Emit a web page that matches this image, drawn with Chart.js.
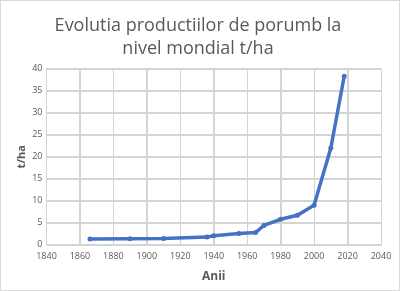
<!DOCTYPE html>
<html>
<head>
<meta charset="utf-8">
<script src="https://cdn.jsdelivr.net/npm/chart.js@4"></script>
<style>
  html, body { margin: 0; padding: 0; background: #fff; }
  #wrap { position: relative; width: 398px; height: 289px; border: 1px solid #d9d9d9; }
</style>
</head>
<body>
<div id="wrap"><canvas id="myChart" width="398" height="289"></canvas></div>
<script>
const years = [1866, 1890, 1910, 1936, 1940, 1955, 1965, 1970, 1980, 1990, 2000, 2010, 2018];
const yields = [1.3, 1.4, 1.45, 1.75, 2.05, 2.55, 2.8, 4.4, 5.8, 6.7, 9.0, 22.0, 38.3];
const xTicks = [1840, 1860, 1880, 1900, 1920, 1940, 1960, 1980, 2000, 2020, 2040];
const yTicks = [0, 5, 10, 15, 20, 25, 30, 35, 40];

const points = years.map((y, i) => ({ x: y, y: yields[i] }));
const fontFamily = "'Open Sans', 'Liberation Sans', sans-serif";
const gridColor = '#d4d4d4';

// draw the gridlines from the scales' own ticks, under the data
const gridPlugin = {
    id: 'gridLines',
    beforeDatasetsDraw(chart) {
        const { ctx, chartArea: a, scales } = chart;
        ctx.save();
        ctx.strokeStyle = gridColor;
        ctx.lineWidth = 1;
        ctx.beginPath();
        xTicks.forEach(v => {
            const px = Math.round(scales.x.getPixelForValue(v)) + 0.5;
            ctx.moveTo(px, a.top);
            ctx.lineTo(px, a.bottom);
        });
        yTicks.forEach(v => {
            const py = Math.round(scales.y.getPixelForValue(v)) + 0.5;
            ctx.moveTo(a.left, py);
            ctx.lineTo(a.right, py);
        });
        ctx.stroke();
        ctx.restore();
    }
};

const ctx = document.getElementById('myChart').getContext('2d');
const myChart = new Chart(ctx, {
    type: 'scatter',
    data: {
        datasets: [{
            label: 't/ha',
            data: points,
            showLine: true,
            borderColor: '#4472C4',
            backgroundColor: '#4472C4',
            borderWidth: 3.5,
            pointRadius: 2.5,
            pointBorderWidth: 0
        }]
    },
    options: {
        responsive: false,
        animation: false,
        layout: { padding: { left: 14, right: 18, top: 7, bottom: 2 } },
        scales: {
            x: {
                type: 'linear',
                min: xTicks[0], max: xTicks[xTicks.length - 1],
                grid: { color: gridColor, drawTicks: false },
                border: { color: gridColor },
                ticks: {
                    stepSize: 20,
                    color: '#595959', font: { family: fontFamily, size: 9 }, padding: 6, maxRotation: 0,
                    callback: v => String(v)
                },
                title: { display: true, text: 'Anii', color: '#595959', font: { family: fontFamily, size: 12, weight: 'bold' }, padding: { top: 2 } }
            },
            y: {
                min: yTicks[0], max: yTicks[yTicks.length - 1],
                grid: { color: gridColor, drawTicks: false },
                border: { color: gridColor },
                ticks: {
                    stepSize: 5,
                    color: '#595959', font: { family: fontFamily, size: 9 }, padding: 4,
                    callback: v => String(v)
                },
                title: { display: true, text: 't/ha', color: '#595959', font: { family: fontFamily, size: 11, weight: 'bold' }, padding: { top: 0, bottom: 0 } }
            }
        },
        plugins: {
            legend: { display: false },
            tooltip: { enabled: false },
            title: {
                display: true,
                text: ['Evolutia productiilor de porumb la', 'nivel mondial t/ha'],
                color: '#595959',
                font: { family: fontFamily, size: 18, weight: 'normal', lineHeight: 1.3 },
                padding: { top: 6, bottom: 8 }
            }
        }
    },
    plugins: [gridPlugin]
});
</script>
</body>
</html>
